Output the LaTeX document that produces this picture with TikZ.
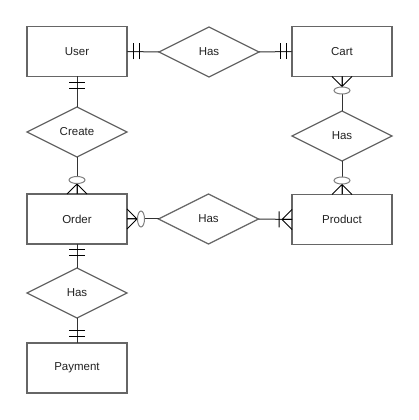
\documentclass[tikz,border=0pt]{standalone}
\usepackage{fontspec}
\setmainfont{Liberation Sans}
\usetikzlibrary{shapes.geometric}
\definecolor{edge}{HTML}{666666}
\definecolor{txt}{HTML}{222222}
\definecolor{conn}{HTML}{333333}
\tikzset{
  entity/.style={draw=edge, line width=1.2pt, minimum width=100pt, minimum height=50pt, inner sep=0pt, outer sep=0pt, text=txt, font=\fontsize{11.5}{13}\selectfont},
  rel/.style={draw=edge, line width=1.2pt, shape=diamond, minimum width=100pt, minimum height=50pt, shape aspect=2, inner sep=0pt, outer sep=0pt, text=txt, font=\fontsize{11.5}{13}\selectfont},
  link/.style={draw=conn, line width=1pt},
  mk/.style={draw=black, line width=1pt},
  ring/.style={draw=black!50, line width=1pt, fill=white},
  mandone/.pic={\draw[mk] (6,-8)--(6,8) (12,-8)--(12,8);},
  zeromany/.pic={\draw[mk] (10,0)--(0,10) (10,0)--(0,-10) (10,0)--(0,0);
                 \draw[ring] (14,0) ellipse [x radius=3.5pt, y radius=8pt];},
  onemany/.pic={\draw[mk] (10,0)--(0,10) (10,0)--(0,-10) (10,0)--(0,0) (13,-8)--(13,8);}
}
\begin{document}
\begin{tikzpicture}[x=1pt,y=1pt]
\useasboundingbox[fill=white] (0,0) rectangle (418,420);
% entities (Y = 420 - y)
\node[entity] (user) at (77,368.5) {User};
\node[entity] (cart) at (342,368.5) {Cart};
\node[entity] (order) at (77,201) {Order};
\node[entity] (product) at (342,200.5) {Product};
\node[entity] (payment) at (77,52) {Payment};
% relationships
\node[rel] (hastop) at (209,368) {Has};
\node[rel] (create) at (77,288) {Create};
\node[rel] (hasright) at (342,284) {Has};
\node[rel] (hasmid) at (208.5,201) {Has};
\node[rel] (hasbot) at (77,127) {Has};
% connectors
\draw[link] (user.east) -- (hastop.west);
\draw[link] (hastop.east) -- (cart.west);
\draw[link] (user.south) -- (create.north);
\draw[link] (create.south) -- (order.north);
\draw[link] (cart.south) -- (hasright.north);
\draw[link] (hasright.south) -- (product.north);
\draw[link] (order.east) -- (hasmid.west);
\draw[link] (hasmid.east) -- (product.west);
\draw[link] (order.south) -- (hasbot.north);
\draw[link] (hasbot.south) -- (payment.north);
% end markers
\pic[rotate=0] at (user.east) {mandone};
\pic[rotate=180] at (cart.west) {mandone};
\pic[rotate=-90] at (user.south) {mandone};
\pic[rotate=-90] at (order.south) {mandone};
\pic[rotate=90] at (payment.north) {mandone};
\pic[rotate=90] at (order.north) {zeromany};
\pic[rotate=-90] at (cart.south) {zeromany};
\pic[rotate=90] at (product.north) {zeromany};
\pic[rotate=0] at (order.east) {zeromany};
\pic[rotate=180] at (product.west) {onemany};
\end{tikzpicture}
\end{document}
